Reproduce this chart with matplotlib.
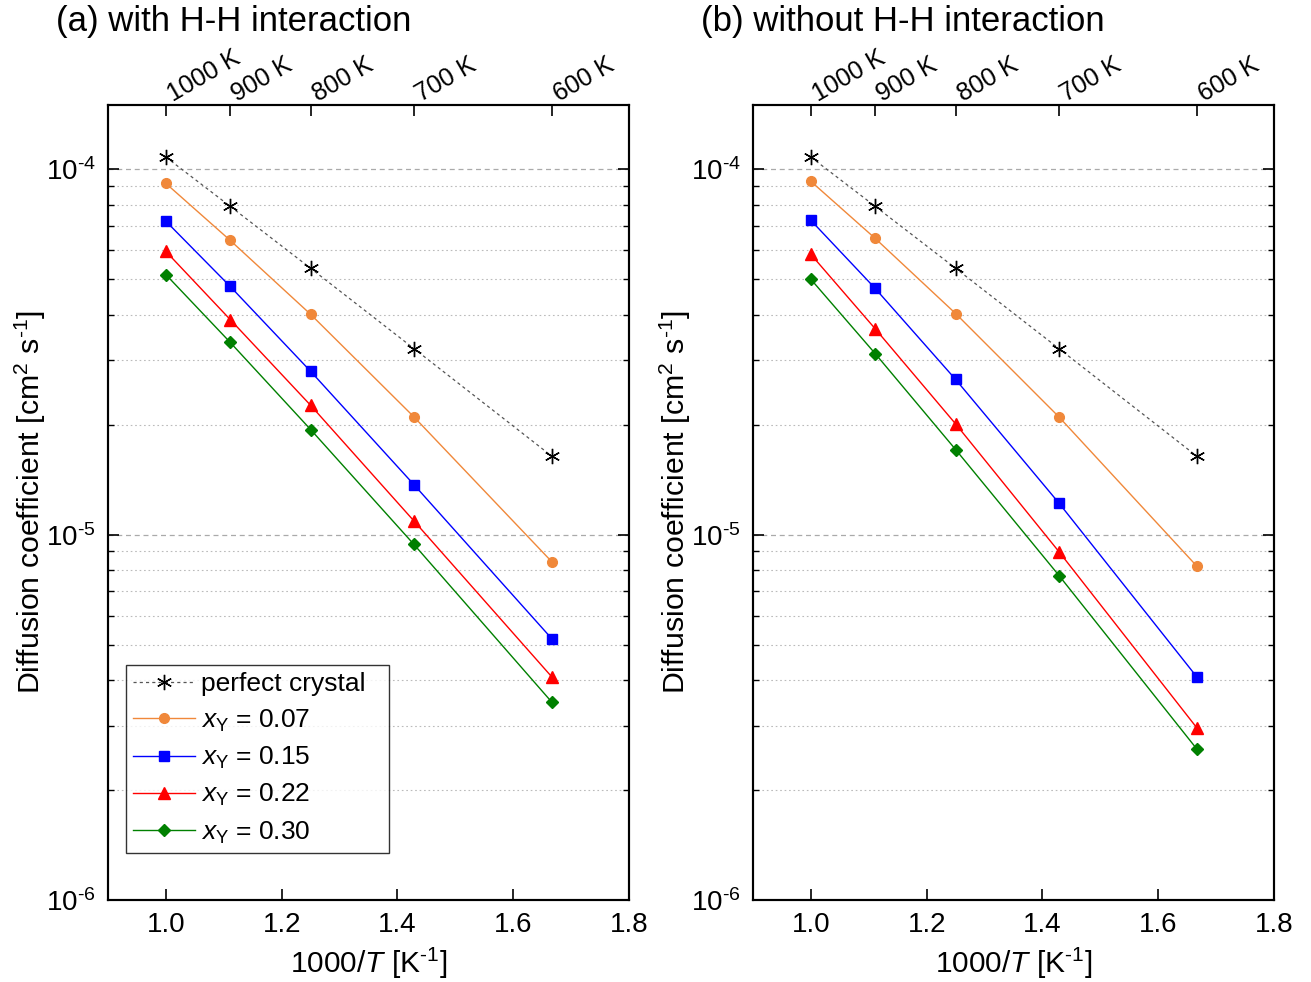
import numpy as np
import matplotlib
matplotlib.use("Agg")
import matplotlib.pyplot as plt
from matplotlib.ticker import LogLocator, NullFormatter, FixedLocator, FuncFormatter

plt.rcParams['font.family'] = ['Liberation Sans', 'DejaVu Sans']
plt.rcParams['mathtext.fontset'] = 'custom'
plt.rcParams['mathtext.rm'] = 'Liberation Sans'
plt.rcParams['mathtext.it'] = 'Liberation Sans:italic'
plt.rcParams['mathtext.bf'] = 'Liberation Sans:bold'
plt.rcParams['axes.unicode_minus'] = False

temps = [1000, 900, 800, 700, 600]
inv_T = [1000.0 / t for t in temps]
top_labels = ["1000 K", "900 K", "800 K", "700 K", "600 K"]

perfect = [1.08e-4, 7.92e-5, 5.36e-5, 3.23e-5, 1.64e-5]

with_hh_007 = [9.15e-5, 6.39e-5, 4.01e-5, 2.10e-5, 8.43e-6]
with_hh_015 = [7.21e-5, 4.78e-5, 2.80e-5, 1.37e-5, 5.19e-6]
with_hh_022 = [5.96e-5, 3.88e-5, 2.26e-5, 1.09e-5, 4.08e-6]
with_hh_030 = [5.15e-5, 3.36e-5, 1.94e-5, 9.40e-6, 3.48e-6]

without_hh_007 = [9.27e-5, 6.47e-5, 4.03e-5, 2.10e-5, 8.20e-6]
without_hh_015 = [7.25e-5, 4.72e-5, 2.66e-5, 1.22e-5, 4.08e-6]
without_hh_022 = [5.85e-5, 3.66e-5, 2.01e-5, 8.98e-6, 2.96e-6]
without_hh_030 = [5.00e-5, 3.13e-5, 1.71e-5, 7.73e-6, 2.59e-6]

labels = [r"$x_\mathrm{Y}$ = 0.07", r"$x_\mathrm{Y}$ = 0.15",
          r"$x_\mathrm{Y}$ = 0.22", r"$x_\mathrm{Y}$ = 0.30"]
colors = ["#F0883A", "#0000FF", "#FF0000", "#008000"]
markers = ["o", "s", "^", "D"]
msizes = [7, 7, 8, 6.5]

titles = ["(a) with H-H interaction", "(b) without H-H interaction"]
panels = [
    [with_hh_007, with_hh_015, with_hh_022, with_hh_030],
    [without_hh_007, without_hh_015, without_hh_022, without_hh_030],
]


def logfmt(v, pos):
    e = int(round(np.log10(v)))
    if e < 0:
        return r"$\mathdefault{10^{\text{-}%d}}$" % (-e)
    return r"$\mathdefault{10^{%d}}$" % e


fig = plt.figure(figsize=(13.11, 9.82), dpi=100)
W = 1311; H = 982
lefts = [108 / W, 753 / W]
for i in range(2):
    ax = fig.add_axes([lefts[i], 1 - 900 / H, 521 / W, 795 / H])
    ax.set_yscale('log')
    ax.set_xlim(0.9, 1.8)
    ax.set_ylim(1e-6, 1.5e-4)

    ax.plot(inv_T, perfect, linestyle=(0, (2.5, 2.5)), color='#555555', lw=0.9,
            marker=(6, 2, 0), markersize=11, markeredgecolor='black',
            markeredgewidth=1.0, label='perfect crystal', zorder=3)
    for vals, c, m, ms, lab in zip(panels[i], colors, markers, msizes, labels):
        ax.plot(inv_T, vals, color=c, lw=1.0, marker=m, markersize=ms,
                markeredgecolor=c, markerfacecolor=c, label=lab, zorder=3)

    ax.yaxis.set_major_locator(LogLocator(base=10, numticks=10))
    ax.yaxis.set_major_formatter(FuncFormatter(logfmt))
    ax.yaxis.set_minor_locator(LogLocator(base=10, subs=np.arange(2, 10), numticks=20))
    ax.yaxis.set_minor_formatter(NullFormatter())
    ax.set_xticks([1.0, 1.2, 1.4, 1.6, 1.8])
    ax.set_xticklabels(["1.0", "1.2", "1.4", "1.6", "1.8"])
    ax.grid(True, which='major', axis='y', linestyle=(0, (4, 3)), color='#aaaaaa', lw=0.9)
    ax.grid(True, which='minor', axis='y', linestyle=(0, (1.5, 2.5)), color='#bbbbbb', lw=0.8)
    ax.set_axisbelow(True)

    ax.tick_params(axis='both', which='major', direction='in', length=8, width=1.2,
                   labelsize=20, right=True, pad=9)
    ax.tick_params(axis='y', which='minor', direction='in', length=4, width=1.0, right=True)
    ax.tick_params(axis='x', which='major', top=False)
    for s in ax.spines.values():
        s.set_linewidth(1.5)

    ax.set_xlabel(r"1000/$T$ [K$^{\text{-}1}$]", fontsize=21.5, labelpad=5)
    ax.set_ylabel(r"Diffusion coefficient [cm$^2$ s$^{\text{-}1}$]", fontsize=21.8,
                  labelpad=-2)

    axt = ax.twiny()
    axt.set_xlim(ax.get_xlim())
    axt.xaxis.set_major_locator(FixedLocator(inv_T))
    axt.xaxis.set_major_formatter(NullFormatter())
    axt.tick_params(axis='x', direction='in', length=8, width=1.2)
    for s in axt.spines.values():
        s.set_linewidth(1.5)
    for xv, lbl in zip(inv_T, top_labels):
        ax.annotate(lbl, xy=(xv, 1.0), xycoords=('data', 'axes fraction'),
                    xytext=(5, 2.5), textcoords='offset points', rotation=30,
                    ha='left', va='baseline', rotation_mode='anchor', fontsize=18,
                    annotation_clip=False)

    fig.text(lefts[i] - 52 / W, 1 - 22 / H, titles[i], fontsize=25,
             ha='left', va='center')

    if i == 0:
        leg = ax.legend(loc='lower left', bbox_to_anchor=(0.0345, 0.0591, 0.505, 0.2),
                        mode='expand', fontsize=19,
                        frameon=True, fancybox=False, edgecolor='black',
                        handlelength=2.35, handletextpad=0.2, labelspacing=0.42,
                        borderpad=0.28, borderaxespad=0)
        leg.get_frame().set_linewidth(1.0)

fig.savefig("out.png", dpi=100)
